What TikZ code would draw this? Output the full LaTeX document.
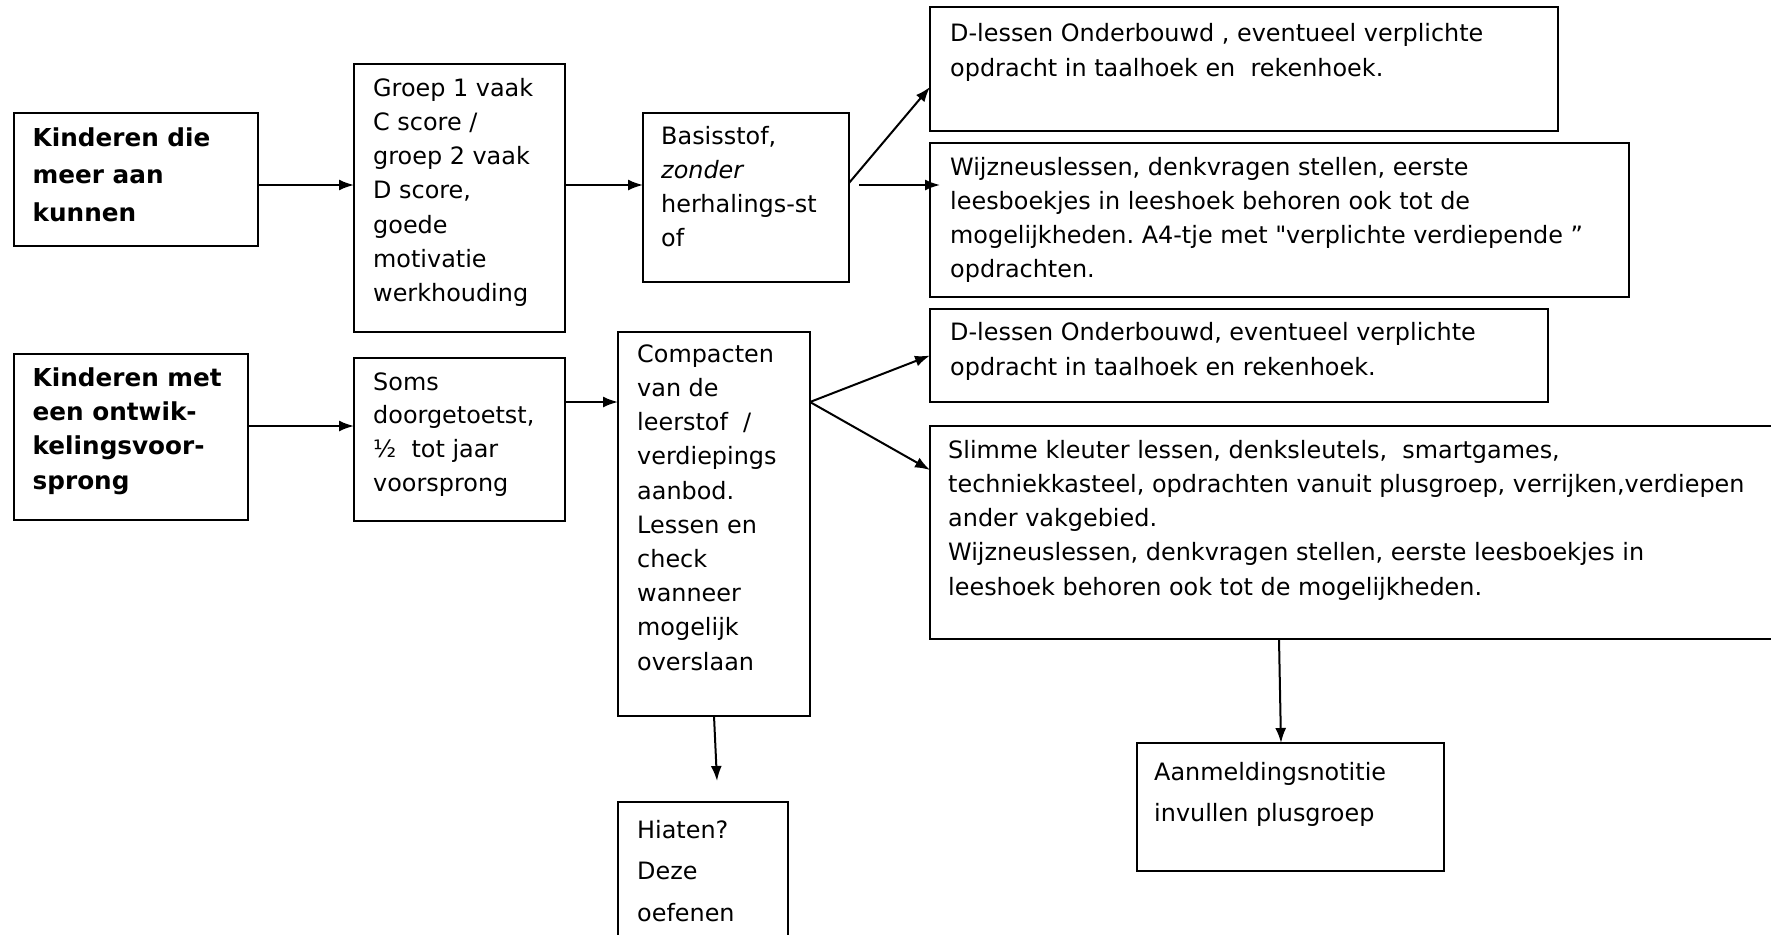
\documentclass[tikz,border=0pt]{standalone}
\usepackage{fontspec}
\setmainfont{DejaVu Sans}[Ligatures=TeXOff]
\usetikzlibrary{arrows.meta}
\tikzset{
  box/.style={draw, line width=2pt, anchor=north west, inner sep=0pt, outer sep=0pt},
  txt/.style={anchor=north west, inner sep=0pt, align=left},
  arr/.style={line width=2pt, -{Latex[length=15pt,width=11pt]}},
}
\newcommand{\fs}[1]{\fontsize{23.9}{#1}\selectfont}
\newcommand{\st}{\rule{0pt}{26pt}}
\frenchspacing
\begin{document}
\begin{tikzpicture}[x=1pt,y=-1pt]
\useasboundingbox (0,0) rectangle (1771,934);
\clip (0,0) rectangle (1771,934);
% boxes
\node[box, minimum width=244pt, minimum height=133pt] (k1) at (14,113) {};
\node[box, minimum width=211pt, minimum height=268pt] (g1) at (354,64) {};
\node[box, minimum width=206pt, minimum height=169pt] (b) at (643,113) {};
\node[box, minimum width=628pt, minimum height=124pt] (d1) at (930,7) {};
\node[box, minimum width=699pt, minimum height=154pt] (w1) at (930,143) {};
\node[box, minimum width=234pt, minimum height=166pt] (k2) at (14,354) {};
\node[box, minimum width=211pt, minimum height=163pt] (s) at (354,358) {};
\node[box, minimum width=192pt, minimum height=384pt] (c) at (618,332) {};
\node[box, minimum width=618pt, minimum height=93pt] (d2) at (930,309) {};
\node[box, minimum width=860pt, minimum height=213pt] (s2) at (930,426) {};
\node[box, minimum width=307pt, minimum height=128pt] (a) at (1137,743) {};
\node[box, minimum width=170pt, minimum height=160pt] (h) at (618,802) {};
% texts
\node[txt, font=\fontsize{24.7}{37.5}\selectfont\bfseries] (k1t) at (32.5,120) {\st Kinderen die\\meer aan\\kunnen};
\node[txt, font=\fs{34.2}] (g1t) at (373,70) {\st Groep 1 vaak\\C score /\\groep 2 vaak\\D score,\\goede\\motivatie\\werkhouding};
\node[txt, font=\fs{34}] (bt) at (661,118) {\st Basisstof,\\\textit{zonder}\\herhalings-st\\of};
\node[txt, font=\fs{35}] (d1t) at (950,15) {\st D-lessen Onderbouwd , eventueel verplichte\\opdracht in taalhoek en\ \ rekenhoek.};
\node[txt, font=\fs{34}] (w1t) at (950,149) {\st Wijzneuslessen, denkvragen stellen, eerste\\leesboekjes in leeshoek behoren ook tot de\\mogelijkheden. A4-tje met "verplichte verdiepende ”\\opdrachten.};
\node[txt, font=\fontsize{24.7}{34.3}\selectfont\bfseries] (k2t) at (32.5,360) {\st Kinderen met\\een ontwik-\\kelingsvoor-\\sprong};
\node[txt, font=\fs{33.7}] (st) at (373,364) {\st Soms\\doorgetoetst,\\½\ \ tot jaar\\voorsprong};
\node[txt, font=\fs{34.2}] (ct) at (637,336) {\st Compacten\\van de\\leerstof\ \ /\\verdiepings\\aanbod.\\Lessen en\\check\\wanneer\\mogelijk\\overslaan};
\node[txt, font=\fs{35}] (d2t) at (950,314) {\st D-lessen Onderbouwd, eventueel verplichte\\opdracht in taalhoek en rekenhoek.};
\node[txt, font=\fs{34.2}] (s2t) at (948,432) {\st Slimme kleuter lessen, denksleutels,\ \ smartgames,\\techniekkasteel, opdrachten vanuit plusgroep, verrijken,verdiepen\\ander vakgebied.\\Wijzneuslessen, denkvragen stellen, eerste leesboekjes in\\leeshoek behoren ook tot de mogelijkheden.};
\node[txt, font=\fs{41}] (at) at (1154,754) {\st Aanmeldingsnotitie\\invullen plusgroep};
\node[txt, font=\fs{41.5}] (ht) at (637,812) {\st Hiaten?\\Deze\\oefenen};
% connectors
\draw[arr] ([yshift=-5.5pt]k1.east) -- ([yshift=-5.5pt]k1.east -| g1.west);
\draw[arr] ([yshift=13pt]g1.east) -- ([yshift=13pt]g1.east -| b.west);
\draw[arr] ([yshift=14.5pt]b.east) -- ([yshift=-18pt]d1.west);
\draw[arr] ([xshift=10pt,yshift=12.5pt]b.east) -- ([xshift=10pt,yshift=12.5pt]b.east -| w1.west);
\draw[arr] ([yshift=11pt]k2.east) -- ([yshift=11pt]k2.east -| s.west);
\draw[arr] ([yshift=37.5pt]s.east) -- ([yshift=37.5pt]s.east -| c.west);
\draw[arr] ([yshift=122pt]c.east) -- (d2.west);
\draw[arr] ([yshift=122pt]c.east) -- ([yshift=62.5pt]s2.west);
\draw[arr] (c.south) -- ([xshift=14pt,yshift=21pt]h.north);
\draw[arr] ([xshift=-81pt]s2.south) -- ([xshift=-9.5pt]a.north);
\end{tikzpicture}
\end{document}
